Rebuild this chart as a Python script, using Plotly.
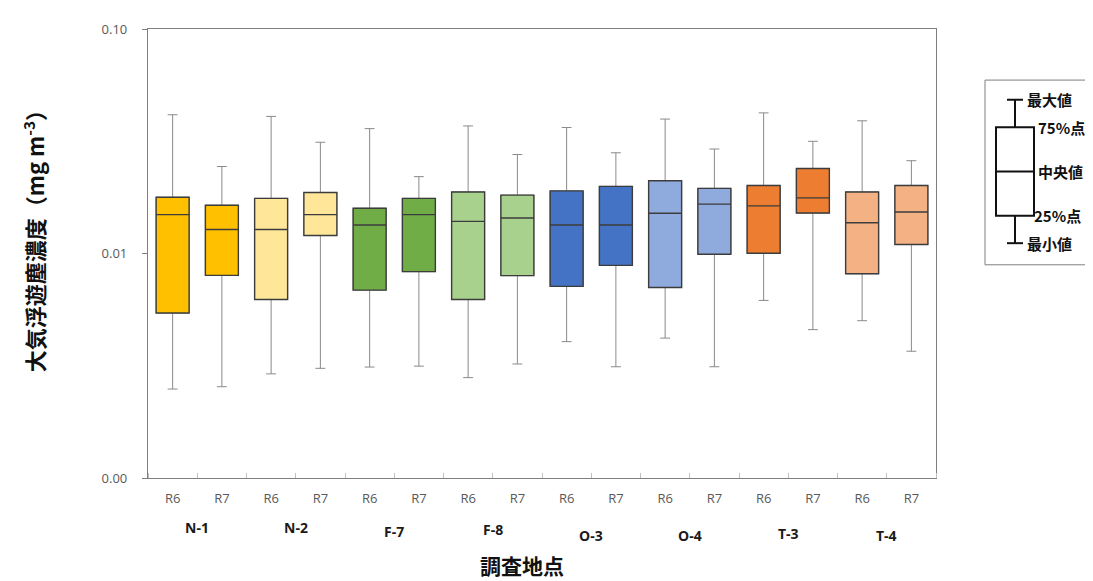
import plotly.graph_objects as go

# ---------------- data ----------------
sites = ["N-1", "N-2", "F-7", "F-8", "O-3", "O-4", "T-3", "T-4"]
years = ["R6", "R7"]

q_max = [0.0415, 0.0244, 0.0408, 0.0313, 0.0360, 0.0220, 0.0370, 0.0276,
         0.0364, 0.0281, 0.0397, 0.0292, 0.0423, 0.0316, 0.0390, 0.0259]
q3 = [0.0178, 0.0164, 0.0176, 0.0187, 0.0159, 0.0176, 0.0188, 0.0182,
      0.0190, 0.0199, 0.0211, 0.0195, 0.0201, 0.0239, 0.0188, 0.0201]
median = [0.0149, 0.0128, 0.0128, 0.0149, 0.0134, 0.0149, 0.0139, 0.0144,
          0.0134, 0.0134, 0.0151, 0.0166, 0.0163, 0.0177, 0.0137, 0.0153]
q1 = [0.00543, 0.00799, 0.00624, 0.01202, 0.00687, 0.00830, 0.00624, 0.00797,
      0.00714, 0.00885, 0.00706, 0.00992, 0.01002, 0.01514, 0.00813, 0.01097]
q_min = [0.00249, 0.00255, 0.00291, 0.00308, 0.00312, 0.00315, 0.00280, 0.00322,
         0.00405, 0.00313, 0.00420, 0.00313, 0.00618, 0.00458, 0.00502, 0.00367]

site_colors = ["#FFC000", "#FFE699", "#70AD47", "#A9D18E",
               "#4472C4", "#8FAADC", "#ED7D31", "#F4B183"]

y_tickvals = [0.001, 0.01, 0.1]
y_ticktext = ["0.00", "0.01", "0.10"]

legend_labels = ["最大値", "75%点", "中央値", "25%点", "最小値"]

# ---------------- layout geometry (page pixels) ----------------
OFF = 8                      # default page body margin
W, H = 1093 - OFF, 581 - OFF
L, R, T, B = 148, 936, 21, 478   # plot area in page pixels
PW, PH = R - L, B - T


def px(xp):
    return (xp - L) / PW


def py(yp):
    return (B - yp) / PH


fig = go.Figure()

n = len(sites) * len(years)
tick_pos = list(range(n))
tick_txt = [years[i % 2] for i in range(n)]

for i in range(n):
    col = site_colors[i // 2]
    # whiskers (grey thin lines)
    fig.add_trace(go.Box(
        x=[i], q1=[q1[i]], median=[median[i]], q3=[q3[i]],
        lowerfence=[q_min[i]], upperfence=[q_max[i]],
        width=0.67, whiskerwidth=0.3,
        fillcolor=col, line=dict(color="#8a8a8a", width=1),
        boxpoints=False, showlegend=False, hoverinfo="skip",
    ))
    # box body with dark outline
    fig.add_trace(go.Box(
        x=[i], q1=[q1[i]], median=[median[i]], q3=[q3[i]],
        lowerfence=[q1[i]], upperfence=[q3[i]],
        width=0.67, whiskerwidth=0,
        fillcolor=col, line=dict(color="#3c3c3c", width=1.4),
        boxpoints=False, showlegend=False,
        name=f"{sites[i // 2]} {years[i % 2]}",
    ))

fig.update_layout(
    width=W, height=H,
    margin=dict(l=L - OFF, r=(W + OFF) - R, t=T - OFF, b=(H + OFF) - B),
    plot_bgcolor="white", paper_bgcolor="white",
    boxmode="overlay",
    showlegend=False,
    font=dict(family="Open Sans, Noto Sans CJK JP", color="#595959"),
)

fig.update_xaxes(
    range=[-0.5, n - 0.5],
    tickmode="array", tickvals=tick_pos, ticktext=tick_txt,
    ticks="", ticklabelstandoff=8,
    tickfont=dict(size=13, color="#595959", family="Liberation Sans Narrow, Open Sans"),
    showline=True, linecolor="#7f7f7f", linewidth=1.3, mirror=True,
    showgrid=False, zeroline=False,
    minor=dict(tickmode="linear", tick0=0.5, dtick=1, ticks="inside",
               ticklen=5, tickcolor="#bfbfbf"),
)

fig.update_yaxes(
    type="log", range=[-3, -1],
    tickmode="array", tickvals=y_tickvals, ticktext=y_ticktext,
    ticks="outside", ticklen=5, tickcolor="#7f7f7f", ticklabelstandoff=12,
    tickfont=dict(size=13, color="#595959", family="Open Sans"),
    showline=True, linecolor="#7f7f7f", linewidth=1.3, mirror=True,
    showgrid=False, zeroline=False,
)

annotations = []
# group labels (Excel-style staggered)
group_y = [528, 528, 532, 530, 537, 537, 534, 537]
for k, s in enumerate(sites):
    annotations.append(dict(
        x=2 * k + 0.5, xref="x", y=py(group_y[k]), yref="paper",
        text=f"<b>{s}</b>", showarrow=False, xanchor="center", yanchor="middle",
        font=dict(size=14, color="#1a1a1a", family="Liberation Sans Narrow, Open Sans"),
    ))

# axis titles
annotations.append(dict(
    x=px(522), y=py(567), xref="paper", yref="paper",
    text="<b>調査地点</b>", showarrow=False, xanchor="center", yanchor="middle",
    font=dict(size=21, color="#111111", family="Noto Sans CJK JP"),
))
annotations.append(dict(
    x=px(33), y=py(232), xref="paper", yref="paper",
    text="<b>大気浮遊塵濃度（mg m<sup>-3</sup>）</b>", showarrow=False,
    textangle=-90, xanchor="center", yanchor="middle",
    font=dict(size=22, color="#111111", family="Noto Sans CJK JP"),
))

# ---------------- legend schematic ----------------
shapes = []
line_k = dict(color="#111111", width=2)
shapes.append(dict(type="rect", xref="paper", yref="paper",
                   x0=px(985), x1=px(1110), y0=py(261), y1=py(73),
                   line=dict(color="#7f7f7f", width=1), fillcolor="white", layer="below"))
# whisker top
shapes.append(dict(type="line", xref="paper", yref="paper",
                   x0=px(1007), x1=px(1023), y0=py(93), y1=py(93), line=line_k))
shapes.append(dict(type="line", xref="paper", yref="paper",
                   x0=px(1015), x1=px(1015), y0=py(93), y1=py(121), line=line_k))
# box
shapes.append(dict(type="rect", xref="paper", yref="paper",
                   x0=px(996), x1=px(1034), y0=py(211), y1=py(121), line=line_k))
shapes.append(dict(type="line", xref="paper", yref="paper",
                   x0=px(996), x1=px(1034), y0=py(166), y1=py(166), line=line_k))
# whisker bottom
shapes.append(dict(type="line", xref="paper", yref="paper",
                   x0=px(1015), x1=px(1015), y0=py(211), y1=py(239), line=line_k))
shapes.append(dict(type="line", xref="paper", yref="paper",
                   x0=px(1007), x1=px(1023), y0=py(239), y1=py(239), line=line_k))

leg_pos = [(1025, 93), (1036, 121), (1036, 166), (1032, 211), (1025, 239)]
for lab, (lx, ly) in zip(legend_labels, leg_pos):
    annotations.append(dict(
        x=px(lx), y=py(ly), xref="paper", yref="paper",
        text=f"<b>{lab}</b>", showarrow=False, xanchor="left", yanchor="middle",
        font=dict(size=15, color="#111111", family="Noto Sans CJK JP"),
    ))

fig.update_layout(annotations=annotations, shapes=shapes)

fig.write_html("out.html")
